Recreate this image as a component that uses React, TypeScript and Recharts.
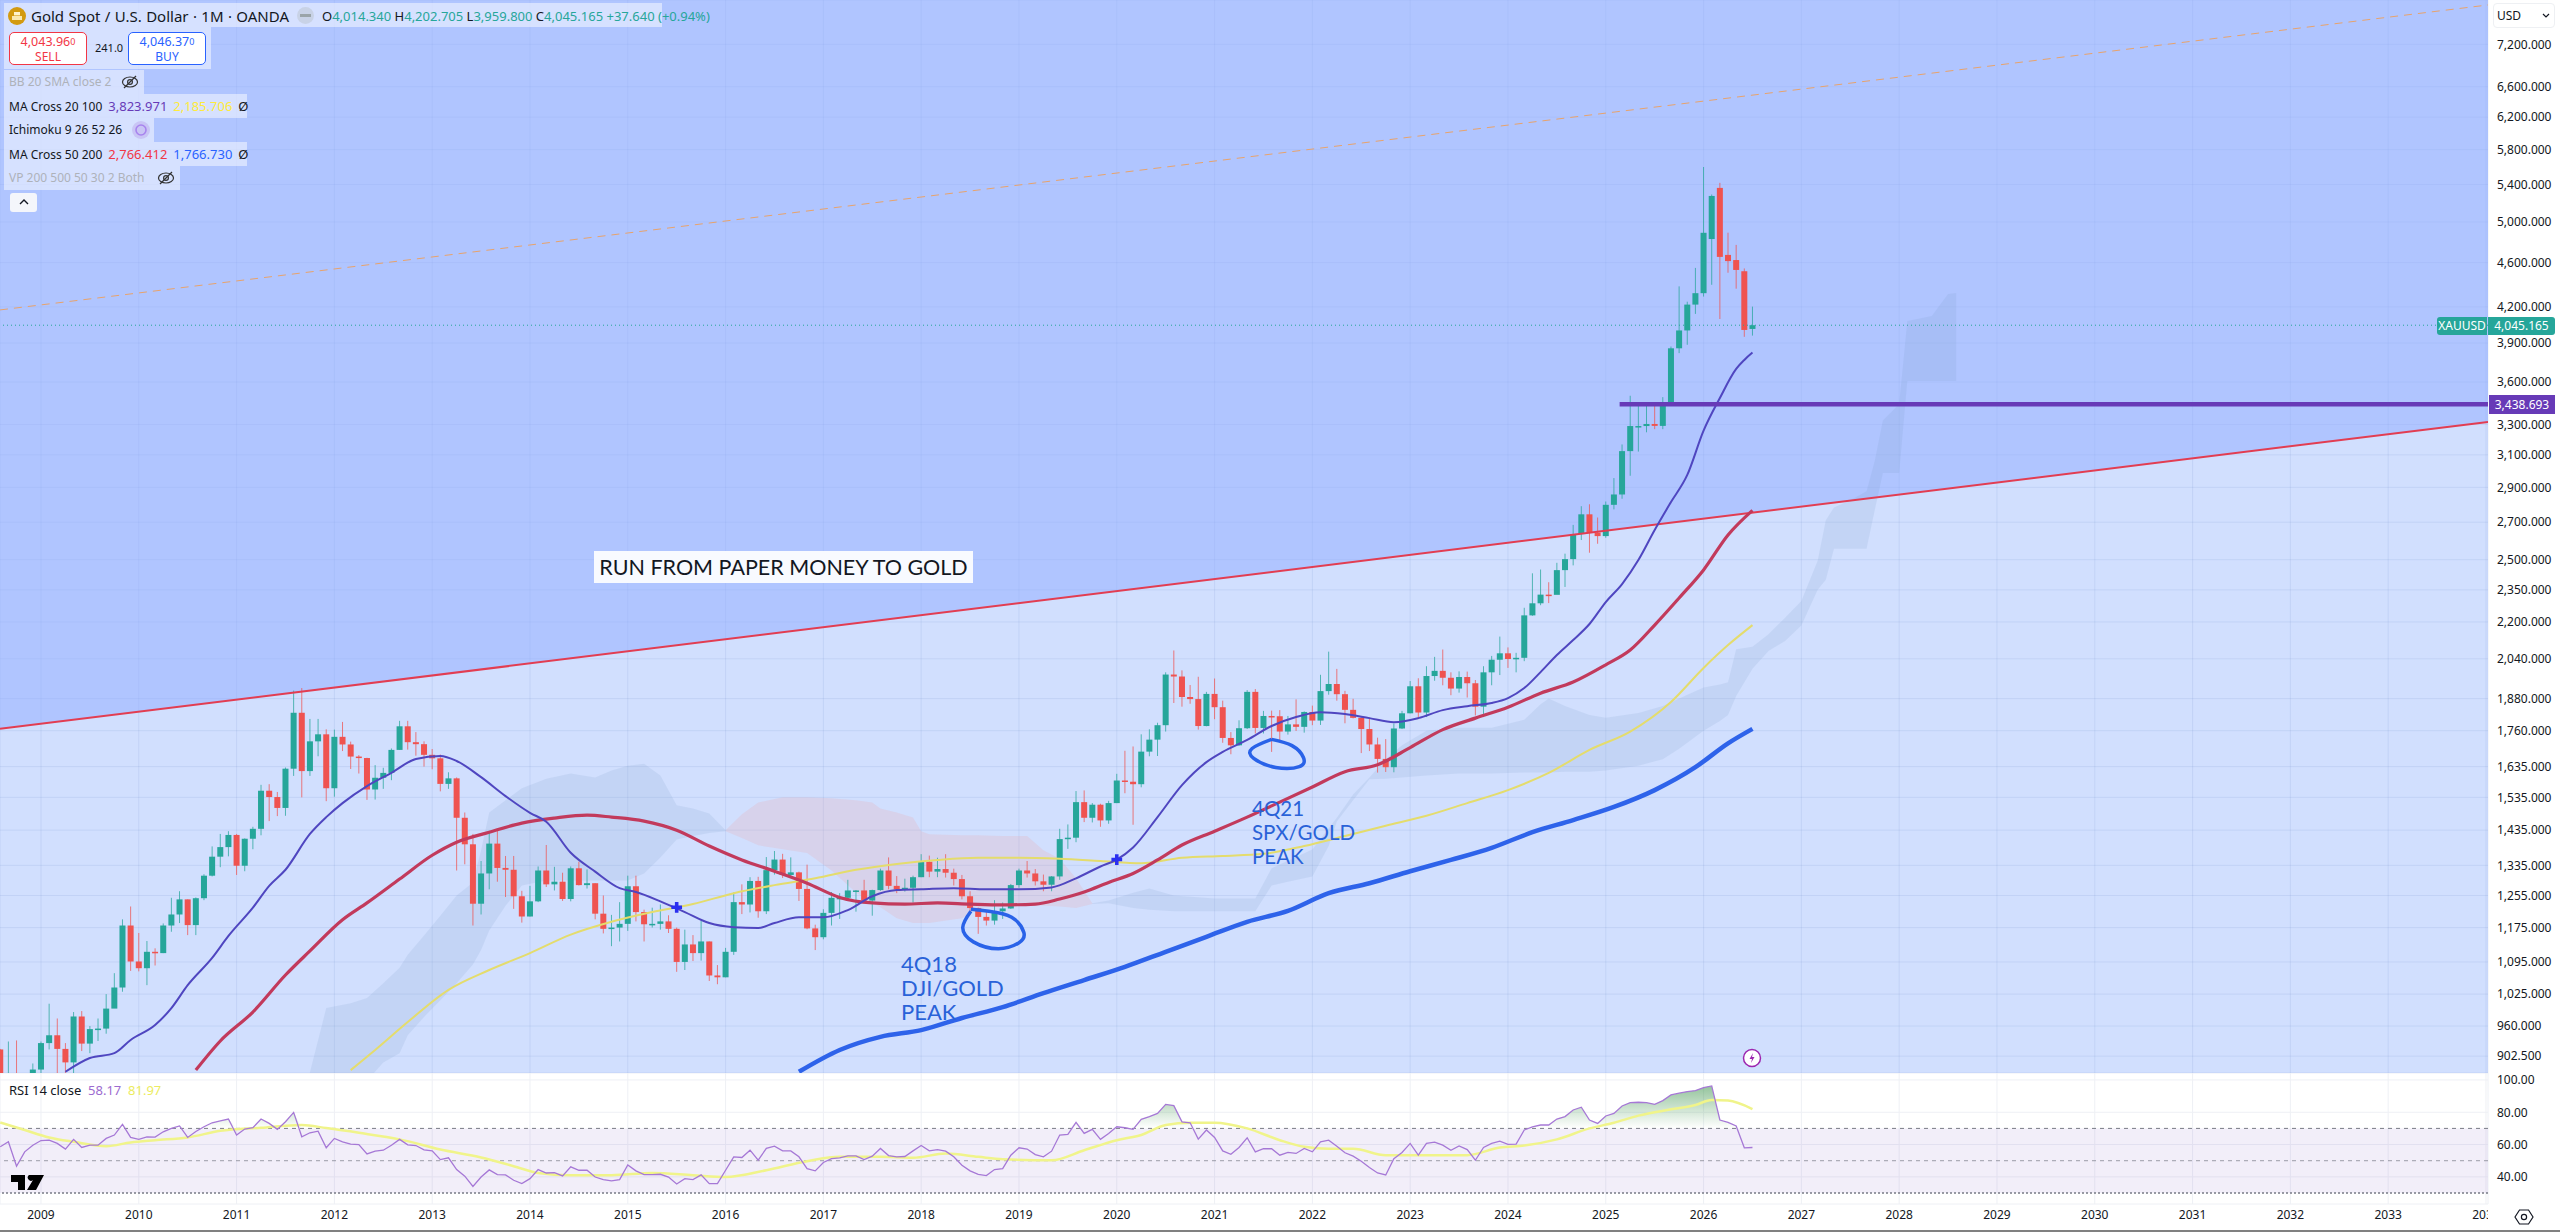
import React from "react";
import {
  ComposedChart,
  Bar,
  Line,
  Area,
  Scatter,
  XAxis,
  YAxis,
  CartesianGrid,
  ReferenceLine,
  ReferenceArea,
} from "recharts";

// monthly candles, first one is Aug 2008 (month -5), month 0 = Jan 2009
const firstMonth = -5;

const opens = [
  915, 833, 871, 725, 815,
  878, 927, 942, 916, 891, 979, 926, 954, 955, 995, 1039, 1180,
  1096, 1081, 1118, 1115, 1180, 1207, 1245, 1181, 1248, 1307, 1359, 1386,
  1421, 1334, 1410, 1439, 1556, 1536, 1502, 1628, 1826, 1620, 1722, 1747,
  1564, 1738, 1711, 1669, 1664, 1560, 1598, 1614, 1692, 1776, 1719, 1712,
  1675, 1663, 1578, 1596, 1472, 1394, 1234, 1313, 1396, 1328, 1323, 1253,
  1202, 1240, 1321, 1284, 1291, 1246, 1327, 1282, 1287, 1209, 1172, 1175,
  1184, 1279, 1213, 1183, 1184, 1190, 1172, 1095, 1135, 1115, 1142, 1065,
  1061, 1118, 1238, 1232, 1293, 1215, 1322, 1351, 1309, 1316, 1272, 1173,
  1152, 1211, 1249, 1249, 1268, 1268, 1242, 1269, 1321, 1280, 1271, 1275,
  1303, 1345, 1318, 1325, 1315, 1298, 1253, 1223, 1201, 1192, 1215, 1222,
  1282, 1321, 1313, 1292, 1283, 1305, 1409, 1413, 1520, 1472, 1512, 1464,
  1517, 1589, 1585, 1577, 1686, 1728, 1780, 1975, 1967, 1886, 1878, 1777,
  1898, 1847, 1734, 1708, 1769, 1906, 1770, 1814, 1813, 1757, 1783, 1774,
  1829, 1797, 1909, 1937, 1897, 1837, 1807, 1766, 1711, 1661, 1633, 1768,
  1824, 1928, 1827, 1969, 1990, 1962, 1919, 1965, 1940, 1849, 1984, 2036,
  2063, 2039, 2044, 2230, 2286, 2327, 2326, 2447, 2503, 2635, 2744, 2643,
  2624, 2798, 2858, 3124, 3289, 3289, 3303, 3290, 3448, 3858, 4002, 4220,
  4320, 4828, 5362, 4673, 4624, 4519, 4014.34,
];

const highs = [
  916, 930, 932, 830, 889,
  930, 1005, 975, 927, 988, 990, 960, 975, 1025, 1070, 1195, 1227,
  1162, 1143, 1126, 1185, 1249, 1266, 1245, 1250, 1311, 1388, 1424, 1432,
  1424, 1411, 1445, 1575, 1577, 1552, 1632, 1911, 1921, 1803, 1803, 1765,
  1764, 1792, 1721, 1674, 1665, 1640, 1631, 1697, 1796, 1796, 1755, 1722,
  1695, 1676, 1616, 1599, 1488, 1424, 1347, 1433, 1434, 1361, 1361, 1267,
  1280, 1332, 1392, 1331, 1315, 1332, 1345, 1324, 1287, 1255, 1206, 1238,
  1307, 1307, 1219, 1224, 1232, 1205, 1175, 1170, 1157, 1192, 1142, 1088,
  1127, 1263, 1284, 1303, 1304, 1358, 1375, 1367, 1357, 1318, 1337, 1182,
  1220, 1264, 1261, 1296, 1269, 1296, 1270, 1326, 1357, 1306, 1299, 1307,
  1366, 1362, 1356, 1366, 1326, 1309, 1266, 1224, 1214, 1243, 1237, 1285,
  1326, 1347, 1325, 1310, 1306, 1439, 1452, 1555, 1557, 1517, 1515, 1524,
  1611, 1689, 1704, 1747, 1765, 1789, 1984, 2075, 1992, 1933, 1966, 1906,
  1959, 1872, 1755, 1798, 1913, 1917, 1833, 1834, 1836, 1814, 1877, 1831,
  1853, 1974, 2070, 1998, 1910, 1879, 1814, 1808, 1735, 1730, 1786, 1833,
  1949, 1960, 2009, 2048, 2079, 1984, 1988, 1987, 1953, 2009, 2052, 2135,
  2088, 2065, 2265, 2431, 2450, 2387, 2484, 2531, 2685, 2790, 2801, 2726,
  2817, 2956, 3167, 3500, 3435, 3452, 3439, 3490, 3872, 4381, 4245, 4550,
  5597, 5290, 5418, 4891, 4770, 4545, 4202.705,
];

const lows = [
  775, 740, 681, 700, 745,
  800, 915, 866, 865, 865, 912, 908, 931, 945, 1000, 1030, 1075,
  1074, 1044, 1087, 1115, 1165, 1186, 1157, 1157, 1243, 1305, 1330, 1360,
  1309, 1319, 1380, 1420, 1462, 1477, 1478, 1604, 1535, 1604, 1670, 1523,
  1537, 1688, 1627, 1612, 1527, 1528, 1562, 1590, 1692, 1693, 1672, 1635,
  1626, 1554, 1562, 1321, 1338, 1180, 1207, 1271, 1291, 1251, 1221, 1187,
  1202, 1238, 1277, 1268, 1241, 1240, 1281, 1273, 1195, 1161, 1131, 1142,
  1167, 1190, 1142, 1175, 1170, 1162, 1073, 1077, 1097, 1098, 1053, 1046,
  1061, 1111, 1208, 1212, 1199, 1208, 1310, 1301, 1302, 1241, 1171, 1122,
  1147, 1180, 1196, 1241, 1214, 1236, 1204, 1267, 1271, 1261, 1265, 1237,
  1303, 1303, 1303, 1302, 1281, 1245, 1211, 1160, 1180, 1182, 1196, 1221,
  1275, 1302, 1281, 1266, 1266, 1296, 1381, 1400, 1459, 1458, 1445, 1454,
  1517, 1548, 1451, 1567, 1670, 1671, 1757, 1863, 1849, 1860, 1764, 1776,
  1802, 1717, 1677, 1706, 1766, 1750, 1750, 1685, 1721, 1746, 1759, 1753,
  1780, 1781, 1895, 1872, 1787, 1805, 1681, 1688, 1615, 1617, 1616, 1766,
  1824, 1804, 1810, 1950, 1932, 1893, 1903, 1884, 1816, 1810, 1932, 1973,
  2002, 1984, 2030, 2228, 2277, 2287, 2353, 2364, 2471, 2603, 2536, 2583,
  2615, 2772, 2833, 2970, 3121, 3247, 3268, 3268, 3430, 3820, 3886, 4140,
  4290, 4395, 4097, 4505, 4360, 3950, 3959.8,
];

const closes = [
  833, 871, 725, 815, 878,
  927, 942, 916, 891, 979, 926, 954, 955, 995, 1039, 1180, 1096,
  1081, 1118, 1115, 1180, 1207, 1245, 1181, 1248, 1307, 1359, 1386, 1421,
  1334, 1410, 1439, 1556, 1536, 1502, 1628, 1826, 1620, 1722, 1747, 1564,
  1738, 1711, 1669, 1664, 1560, 1598, 1614, 1692, 1776, 1719, 1712, 1675,
  1663, 1578, 1596, 1472, 1394, 1234, 1313, 1396, 1328, 1323, 1253, 1202,
  1240, 1321, 1284, 1291, 1246, 1327, 1282, 1287, 1209, 1172, 1175, 1184,
  1279, 1213, 1183, 1184, 1190, 1172, 1095, 1135, 1115, 1142, 1065, 1061,
  1118, 1238, 1232, 1293, 1215, 1322, 1351, 1309, 1316, 1272, 1173, 1152,
  1211, 1249, 1249, 1268, 1268, 1242, 1269, 1321, 1280, 1271, 1275, 1303,
  1345, 1318, 1325, 1315, 1298, 1253, 1223, 1201, 1192, 1215, 1222, 1282,
  1321, 1313, 1292, 1283, 1305, 1409, 1413, 1520, 1472, 1512, 1464, 1517,
  1589, 1585, 1577, 1686, 1728, 1780, 1975, 1967, 1886, 1878, 1777, 1898,
  1847, 1734, 1708, 1769, 1906, 1770, 1814, 1813, 1757, 1783, 1774, 1829,
  1797, 1909, 1937, 1897, 1837, 1807, 1766, 1711, 1661, 1633, 1768, 1824,
  1928, 1827, 1969, 1990, 1962, 1919, 1965, 1940, 1849, 1984, 2036, 2063,
  2039, 2044, 2230, 2286, 2327, 2326, 2447, 2503, 2635, 2744, 2643, 2624,
  2798, 2858, 3124, 3289, 3289, 3303, 3290, 3448, 3858, 4002, 4220, 4320,
  4890, 5274, 4654, 4614, 4531, 4006, 4045.165,
];

const ma20Months = [3, 6, 9, 11, 14, 16, 18, 21, 23, 26, 28, 30, 33, 35, 37, 40, 43, 46, 49, 51, 54, 57, 60, 62, 65, 68, 71, 73, 76, 79, 82, 85, 88, 90, 93, 96, 99, 102, 105, 108, 112, 116, 120, 124, 127, 130, 132, 134, 137, 140, 143, 145, 148, 151, 154, 157, 160, 163, 166, 169, 172, 175, 178, 180, 182, 184, 186, 188, 190, 192, 194, 196, 198, 200, 202, 204, 206, 208, 209, 210];
const ma20Values = [874, 899, 908, 933, 962, 996, 1044, 1104, 1155, 1224, 1280, 1323, 1424, 1474, 1517, 1571, 1614, 1661, 1671, 1654, 1600, 1539, 1487, 1460, 1370, 1318, 1274, 1264, 1240, 1213, 1186, 1176, 1174, 1186, 1200, 1200, 1218, 1253, 1269, 1271, 1274, 1271, 1271, 1276, 1300, 1332, 1351, 1385, 1474, 1574, 1650, 1685, 1727, 1777, 1810, 1828, 1821, 1806, 1791, 1806, 1836, 1851, 1863, 1882, 1921, 1985, 2056, 2120, 2191, 2292, 2378, 2498, 2657, 2814, 2975, 3258, 3484, 3698, 3767, 3823.971];

const ma50Months = [19, 22, 26, 30, 33, 37, 40, 44, 48, 51, 55, 59, 63, 67, 70, 74, 78, 82, 86, 90, 94, 98, 102, 106, 110, 114, 118, 122, 125, 128, 131, 134, 137, 140, 144, 148, 152, 156, 160, 164, 168, 172, 176, 180, 184, 188, 192, 195, 198, 201, 204, 207, 210];
const ma50Values = [877, 931, 988, 1066, 1120, 1194, 1236, 1298, 1363, 1400, 1429, 1456, 1471, 1480, 1474, 1462, 1435, 1389, 1350, 1319, 1287, 1250, 1236, 1233, 1236, 1233, 1231, 1233, 1246, 1264, 1289, 1313, 1350, 1392, 1432, 1474, 1520, 1568, 1618, 1641, 1700, 1764, 1806, 1847, 1901, 1945, 2015, 2077, 2186, 2311, 2448, 2630, 2766.412];

const ma100Months = [38, 41, 45, 50, 55, 60, 65, 70, 75, 80, 85, 90, 95, 100, 105, 110, 115, 120, 125, 130, 135, 140, 145, 150, 155, 160, 165, 170, 175, 180, 185, 190, 195, 200, 204, 207, 210];
const ma100Values = [877, 914, 968, 1034, 1077, 1115, 1158, 1189, 1213, 1233, 1261, 1282, 1300, 1323, 1339, 1350, 1356, 1356, 1353, 1347, 1341, 1356, 1361, 1367, 1389, 1418, 1448, 1478, 1517, 1558, 1614, 1692, 1757, 1867, 2002, 2098, 2185.706];

const ma200Months = [93, 98, 103, 108, 113, 118, 123, 128, 133, 138, 143, 148, 153, 158, 163, 168, 173, 178, 183, 188, 193, 198, 203, 207, 210];
const ma200Values = [874, 914, 939, 952, 976, 998, 1027, 1055, 1084, 1118, 1153, 1189, 1216, 1261, 1287, 1319, 1350, 1384, 1429, 1465, 1505, 1558, 1633, 1715, 1766.73];

// ichimoku cloud edges, three stretches
const greyCloudMonths = [33, 35, 38, 40, 42, 44, 45, 47, 49, 51, 53, 54, 55, 57, 59, 62, 65, 68, 70, 72, 74, 76, 78, 80, 82, 84];
const greyCloudTop = [873, 996, 1006, 1017, 1048, 1082, 1111, 1156, 1204, 1255, 1289, 1377, 1488, 1526, 1564, 1595, 1612, 1599, 1622, 1638, 1645, 1605, 1510, 1500, 1485, 1435];
const greyCloudBottom = [850, 850, 850, 858, 891, 908, 942, 978, 1012, 1048, 1089, 1122, 1168, 1229, 1281, 1294, 1294, 1294, 1294, 1294, 1313, 1357, 1408, 1418, 1427, 1432];

const pinkCloudMonths = [84, 86, 88, 91, 94, 97, 100, 102, 103, 105, 107, 108, 109, 113, 115, 118, 121, 123, 125, 127, 129];
const pinkCloudTop = [1435, 1483, 1519, 1535, 1535, 1532, 1526, 1519, 1500, 1488, 1473, 1432, 1423, 1420, 1420, 1418, 1418, 1377, 1353, 1300, 1235];
const pinkCloudBottom = [1432, 1412, 1391, 1380, 1369, 1321, 1263, 1235, 1225, 1198, 1186, 1186, 1186, 1198, 1223, 1229, 1229, 1229, 1227, 1223, 1233];

const lateCloudMonths = [129, 131, 134, 136, 139, 144, 149, 151, 153, 156, 158, 159, 161, 163, 165, 167, 170, 174, 178, 182, 184, 185, 187, 190, 192, 196, 199, 201, 204, 206, 207, 208, 210, 212, 214, 216, 218, 219, 220, 222, 224, 225, 226, 228, 229, 232, 234, 235];
const lateCloudTop = [1235, 1242, 1262, 1273, 1255, 1247, 1247, 1327, 1348, 1379, 1441, 1472, 1544, 1599, 1660, 1708, 1760, 1771, 1771, 1800, 1858, 1880, 1852, 1818, 1807, 1825, 1852, 1880, 1923, 1935, 1944, 2080, 2091, 2146, 2219, 2297, 2495, 2711, 2783, 2824, 2877, 3062, 3327, 3442, 4081, 4123, 4313, 4322];
const lateCloudBottom = [1233, 1235, 1223, 1219, 1215, 1215, 1215, 1281, 1291, 1305, 1389, 1461, 1526, 1593, 1595, 1599, 1605, 1612, 1612, 1615, 1615, 1615, 1618, 1618, 1622, 1638, 1660, 1696, 1760, 1795, 1818, 1890, 1999, 2074, 2116, 2184, 2350, 2399, 2557, 2557, 2557, 2767, 2987, 2987, 3608, 3608, 3608, 3608];

// hand drawn drawings on the chart
const trendMonths = [-5.03, 300.25];
const redTrendValues = [1767, 3317];
const orangeTrendValues = [4174, 7805];
const supportMonths = [193.7, 300.25];
const supportLevel = 3438.693;
const lastPrice = 4045.165;

const ring18Months = [114.1, 113.1, 114.4, 117.5, 120, 120.6, 119.1, 116.3, 114.1];
const ring18Values = [1215, 1175, 1141, 1125, 1139, 1163, 1200, 1215, 1220];
const ring21Months = [151, 148.6, 148.8, 151.5, 154.4, 154.9, 153.5, 151];
const ring21Values = [1729, 1697, 1663, 1632, 1635, 1666, 1707, 1729];

const crossMonths = [78, 132];
const crossValues = [1225, 1351];

// rsi panel
const rsiValues = [
  58.6, 61.7, 46.6, 55.5, 59.6,
  62.5, 62.7, 60.7, 57.2, 63.2, 58.2, 59.6, 59.6, 63.8, 65.9, 72.5, 64.4,
  63.2, 64.8, 64.6, 67.9, 70, 71.5, 64.4, 68.1, 71, 73.5, 74.6, 75.8,
  65.9, 69.6, 70.4, 75.8, 73.1, 69.4, 74.1, 79.9, 64.8, 67.3, 68.3, 58,
  63.8, 61.7, 60.3, 60, 54.2, 55.9, 56.5, 59.6, 63.2, 59.8, 59.4, 56.7,
  56.1, 50.7, 51.8, 44.5, 40.4, 34.1, 39.9, 44.3, 41.4, 41.2, 37.9, 35.8,
  38.9, 44.5, 42.4, 42.6, 40.6, 46.2, 44.1, 44.1, 39.9, 38.3, 37.5, 38.3,
  47.4, 43.7, 41.4, 41.4, 41.6, 39.9, 35.6, 38.9, 38.3, 41.2, 35.8, 35.8,
  44.1, 52.4, 52, 56.5, 50.3, 57.6, 59, 56.1, 56.1, 52.4, 45.1, 43.7,
  48.9, 51.3, 51.8, 53, 53, 50.7, 52.8, 57.6, 53.2, 52.4, 52.6, 56.1,
  59.4, 56.1, 56.9, 55.9, 52.4, 47.2, 43.7, 41.6, 40.8, 44.5, 45.1, 53.4,
  58, 57.2, 53.8, 52.4, 55.9, 65.9, 66.3, 73.7, 66.9, 69.4, 63.2, 66.9,
  71, 70.4, 69.4, 75.6, 77.3, 79.3, 84.9, 84.1, 74.1, 73.5, 63.4, 69,
  64.4, 56.1, 54, 58.2, 64.2, 55.5, 57.4, 57.4, 53.4, 55.1, 54.5, 57.6,
  55.5, 61.7, 62.7, 59, 54.9, 52.8, 49.7, 45.8, 42.4, 41.2, 51.3, 55.1,
  60.7, 53.4, 60.7, 61.5, 59.6, 56.5, 59.2, 56.9, 50.3, 58.2, 60.7, 62.1,
  60.1, 60.3, 69, 71, 72.1, 72.1, 75.8, 77.3, 81.4, 83.1, 75.2, 73.1,
  77.7, 79.3, 83.9, 86, 86.2, 86, 84.9, 87.2, 90.7, 91.8, 92.8, 93.4,
  95.3, 96.3, 75.2, 73.7, 71.5, 58, 58.17,
];

const rsiMaMonths = [-5, -2, 1, 4, 8, 11, 14, 18, 22, 27, 32, 35, 39, 44, 49, 54, 58, 61, 65, 70, 75, 80, 84, 89, 94, 98, 103, 107, 111, 115, 118, 124, 128, 132, 135, 138, 141, 144, 148, 152, 155, 158, 161, 165, 170, 175, 179, 182, 186, 190, 193, 196, 200, 203, 205, 207, 210];
const rsiMaValues = [73.7, 69, 64.4, 61.7, 59, 61.3, 62.7, 64.4, 68.5, 70.4, 72.1, 70.2, 67.3, 63.2, 56.9, 52, 46.6, 42.4, 41, 41, 42.4, 41, 39.9, 44.1, 49.7, 52.4, 52.4, 51.8, 54.5, 52.4, 50.9, 50.3, 56.5, 62.7, 65.9, 72.1, 73.5, 73.5, 70, 62.7, 58.6, 57.4, 57.4, 53.4, 53.4, 53.4, 58.2, 59.4, 63.2, 70, 73.5, 77.9, 81.8, 84.5, 87.6, 87.2, 81.97];

const years = [2009, 2010, 2011, 2012, 2013, 2014, 2015, 2016, 2017, 2018, 2019, 2020, 2021, 2022, 2023, 2024, 2025, 2026, 2027, 2028, 2029, 2030, 2031, 2032, 2033, 2034];
const priceTicks = [7200, 6600, 6200, 5800, 5400, 5000, 4600, 4200, 3900, 3600, 3300, 3100, 2900, 2700, 2500, 2350, 2200, 2040, 1880, 1760, 1635, 1535, 1435, 1335, 1255, 1175, 1095, 1025, 960, 902.5];
const rsiTicks = [100, 80, 60, 40];

const candleRows = opens.map((open, i) => ({
  m: firstMonth + i,
  open,
  high: highs[i],
  low: lows[i],
  close: closes[i],
}));
const rsiRows = rsiValues.map((rsi, i) => ({
  m: firstMonth + i,
  rsi,
  over: [70, Math.max(rsi, 70)],
}));
const pairLine = (months: number[], values: number[]) =>
  months.map((m, i) => ({ m, v: values[i] }));
const cloudRows = (months: number[], top: number[], bottom: number[]) =>
  months.map((m, i) => ({ m, band: [bottom[i], top[i]] }));

const monthTicks = years.map((y) => (y - 2009) * 12);
const monthDomain = [-5.03, 300.25];
const priceFormat = (v: number) =>
  v.toLocaleString("en-US", { minimumFractionDigits: 3, maximumFractionDigits: 3 });

const FONT = "'Noto Sans', sans-serif";
const UP = "#26a69a";
const DOWN = "#ef5350";
const ROW_BG = "rgba(240,243,255,0.6)";
const BODY_WIDTH = 6;

function Candle(props: any) {
  const { x, y, width, height, payload } = props;
  const { open, close, high, low } = payload;
  // bar spans low..high on the log axis, body is placed inside that span
  const yOf = (p: number) => y + (height * Math.log(high / p)) / Math.log(high / low);
  const color = close >= open ? UP : DOWN;
  const top = yOf(Math.max(open, close));
  const bottom = yOf(Math.min(open, close));
  const mid = x + width / 2;
  return (
    <g>
      <line x1={mid} x2={mid} y1={y} y2={y + height} stroke={color} strokeOpacity={0.75} strokeWidth={1} />
      <rect x={mid - BODY_WIDTH / 2} y={top} width={BODY_WIDTH} height={Math.max(bottom - top, 1.5)} fill={color} />
    </g>
  );
}

function Row({ top, width, children }: any) {
  return (
    <div
      style={{
        position: "absolute",
        left: 4,
        top,
        width,
        height: 24,
        paddingLeft: 5,
        boxSizing: "border-box",
        background: ROW_BG,
        fontSize: 12,
        lineHeight: "24px",
        color: "#131722",
        whiteSpace: "pre",
      }}
    >
      {children}
    </div>
  );
}

function Value({ color, children }: any) {
  return <span style={{ color, fontSize: 13, marginLeft: 6 }}>{children}</span>;
}

function Eye({ x, y }: { x: number; y: number }) {
  return (
    <svg style={{ position: "absolute", left: x, top: y }} width="18" height="14">
      <ellipse cx="9" cy="7" rx="7.5" ry="5" fill="none" stroke="#333" strokeWidth="1.2" />
      <circle cx="9" cy="7" r="2.4" fill="none" stroke="#333" strokeWidth="1.2" />
      <line x1="3" y1="13" x2="15" y2="1" stroke="#333" strokeWidth="1.2" />
    </svg>
  );
}

function TradeBox({ left, color, price, sub, label }: any) {
  return (
    <div
      style={{
        position: "absolute",
        left,
        top: 32,
        width: 78,
        height: 33,
        boxSizing: "border-box",
        border: `1px solid ${color}`,
        borderRadius: 5,
        background: "#fff",
        color,
        textAlign: "center",
        fontSize: 12.5,
        lineHeight: "15px",
        paddingTop: 1,
      }}
    >
      <div>
        {price}
        <span style={{ fontSize: 9, verticalAlign: "top" }}>{sub}</span>
      </div>
      <div style={{ fontSize: 12 }}>{label}</div>
    </div>
  );
}

function Legend() {
  return (
    <div style={{ position: "absolute", left: 0, top: 0, fontFamily: FONT }}>
      <div style={{ position: "absolute", left: 4, top: 3, width: 658, height: 24, background: ROW_BG }} />
      <svg style={{ position: "absolute", left: 8, top: 7 }} width="18" height="18">
        <circle cx="9" cy="9" r="9" fill="#d39a10" />
        <rect x="4" y="9" width="10" height="4" fill="#fbe9b0" />
        <rect x="6" y="5" width="6" height="3.4" fill="#fff3cc" />
      </svg>
      <div style={{ position: "absolute", left: 31, top: 4, fontSize: 15, wordSpacing: 0.5, lineHeight: "24px", color: "#131722", whiteSpace: "pre" }}>
        Gold Spot / U.S. Dollar · 1M · OANDA
      </div>
      <div style={{ position: "absolute", left: 297, top: 7, width: 17, height: 17, borderRadius: 9, background: "#c8d2e6" }}>
        <div style={{ margin: "7px 3px", height: 3, background: "#9aa4a8" }} />
      </div>
      <div style={{ position: "absolute", left: 322, top: 4, fontSize: 13, lineHeight: "24px", color: "#131722", whiteSpace: "pre" }}>
        O<span style={{ color: UP }}>4,014.340</span> H<span style={{ color: UP }}>4,202.705</span> L<span style={{ color: UP }}>3,959.800</span> C<span style={{ color: UP }}>4,045.165</span> <span style={{ color: UP }}>+37.640 (+0.94%)</span>
      </div>

      <div style={{ position: "absolute", left: 4, top: 27, width: 207, height: 42, background: ROW_BG }} />
      <TradeBox left={9} color="#f23645" price="4,043.96" sub="0" label="SELL" />
      <div style={{ position: "absolute", left: 95, top: 40, fontSize: 11, color: "#131722" }}>241.0</div>
      <TradeBox left={128} color="#2962ff" price="4,046.37" sub="0" label="BUY" />

      <Row top={70} width={140}>
        <span style={{ color: "#aeb2ba" }}>BB 20 SMA close 2</span>
      </Row>
      <Eye x={121} y={75} />
      <Row top={94} width={243}>
        MA Cross 20 100
        <Value color="#673ab7">3,823.971</Value>
        <Value color="#ffeb3b">2,185.706</Value>
        <Value color="#131722">Ø</Value>
      </Row>
      <Row top={118} width={150}>
        Ichimoku 9 26 52 26
      </Row>
      <svg style={{ position: "absolute", left: 132, top: 121 }} width="18" height="18">
        <circle cx="9" cy="9" r="9" fill="#c9c5f5" />
        <circle cx="9" cy="9" r="5" fill="none" stroke="#a884ee" strokeWidth="1.6" />
      </svg>
      <Row top={142} width={243}>
        MA Cross 50 200
        <Value color="#f23645">2,766.412</Value>
        <Value color="#2962ff">1,766.730</Value>
        <Value color="#131722">Ø</Value>
      </Row>
      <Row top={166} width={176}>
        <span style={{ color: "#aeb2ba" }}>VP 200 500 50 30 2 Both</span>
      </Row>
      <Eye x={157} y={171} />
      <div style={{ position: "absolute", left: 10, top: 193, width: 27, height: 19, borderRadius: 3, background: "#f4f6fb", textAlign: "center" }}>
        <svg width="12" height="19">
          <polyline points="2,11 6,7 10,11" fill="none" stroke="#131722" strokeWidth="1.4" />
        </svg>
      </div>
    </div>
  );
}

function Notes() {
  const note: React.CSSProperties = {
    position: "absolute",
    fontFamily: "Lato, sans-serif",
    fontSize: 22,
    lineHeight: "24px",
    color: "#2962d8",
    whiteSpace: "pre",
  };
  return (
    <>
      <div
        style={{
          position: "absolute",
          left: 594,
          top: 551,
          width: 379,
          height: 32,
          background: "#f8faff",
          fontFamily: "Lato, sans-serif",
          fontSize: 21.5,
          lineHeight: "32px",
          textAlign: "center",
          color: "#131722",
          whiteSpace: "pre",
        }}
      >
        RUN FROM PAPER MONEY TO GOLD
      </div>
      <div style={{ ...note, left: 901, top: 952 }}>{"4Q18\nDJI/GOLD\nPEAK"}</div>
      <div style={{ ...note, left: 1252, top: 796, fontSize: 20.5 }}>{"4Q21\nSPX/GOLD\nPEAK"}</div>
    </>
  );
}

function PriceTags() {
  const tag: React.CSSProperties = {
    position: "absolute",
    fontFamily: FONT,
    fontSize: 12,
    color: "#fff",
    textAlign: "center",
  };
  return (
    <>
      <div
        style={{
          position: "absolute",
          left: 2493,
          top: 3,
          width: 62,
          height: 25,
          boxSizing: "border-box",
          border: "1px solid #eef0f3",
          borderRadius: 4,
          fontFamily: FONT,
          fontSize: 12,
          lineHeight: "23px",
          paddingLeft: 3,
          color: "#131722",
        }}
      >
        USD
        <svg style={{ position: "absolute", right: 4, top: 9 }} width="8" height="6">
          <polyline points="1,1 4,4 7,1" fill="none" stroke="#131722" strokeWidth="1.2" />
        </svg>
      </div>
      <div style={{ ...tag, left: 2437, top: 317, width: 50, height: 18, lineHeight: "18px", background: UP, borderRadius: "3px 0 0 3px" }}>XAUUSD</div>
      <div style={{ ...tag, left: 2488, top: 317, width: 67, height: 18, lineHeight: "18px", background: UP, borderRadius: "0 3px 3px 0" }}>4,045.165</div>
      <div style={{ ...tag, left: 2489, top: 395, width: 66, height: 19, lineHeight: "19px", background: "#673ab7" }}>3,438.693</div>

      <div style={{ position: "absolute", left: 9, top: 1081, fontFamily: FONT, fontSize: 13, lineHeight: "18px", color: "#131722", whiteSpace: "pre" }}>
        RSI 14 close  <span style={{ color: "#9c6bd0" }}>58.17</span>  <span style={{ color: "#ecec60" }}>81.97</span>
      </div>

      <svg style={{ position: "absolute", left: 11, top: 1175 }} width="33" height="16">
        <path d="M0 0H14V15H7V7H0Z M18 0H33L25 15H16L22 5A3 3 0 1 1 18 0Z" fill="#000" />
      </svg>
      <svg style={{ position: "absolute", left: 1742, top: 1048 }} width="20" height="20">
        <circle cx="10" cy="10" r="8.5" fill="#fff" stroke="#9c27b0" strokeWidth="1.5" />
        <path d="M11 5L7.5 11H10L9 15L12.5 9H10Z" fill="#9c27b0" />
      </svg>

      <div style={{ position: "absolute", left: 2488, top: 1205, width: 72, height: 25, background: "#fff" }}>
        <svg style={{ position: "absolute", left: 26, top: 3 }} width="20" height="18">
          <path d="M1 9L5.5 2H14.5L19 9L14.5 16H5.5Z" fill="none" stroke="#131722" strokeWidth="1.2" />
          <circle cx="10" cy="9" r="2.6" fill="none" stroke="#131722" strokeWidth="1.2" />
        </svg>
      </div>
      <div style={{ position: "absolute", left: 0, top: 1230, width: 2560, height: 2, background: "#808080" }} />
    </>
  );
}

function PriceChart() {
  return (
    <ComposedChart data={candleRows} width={2560} height={1073} margin={{ top: 0, right: 0, bottom: 0, left: 0 }}>
      <CartesianGrid stroke="#5a78c0" strokeOpacity={0.12} fill="#d1dffe" fillOpacity={1} />
      <XAxis dataKey="m" type="number" domain={monthDomain} ticks={monthTicks} hide allowDataOverflow />
      <YAxis
        type="number"
        scale="log"
        orientation="right"
        domain={[871.8, 7885]}
        ticks={priceTicks}
        width={72}
        interval={0}
        allowDataOverflow
        axisLine={false}
        tickLine={false}
        tickSize={0}
        tickMargin={9}
        tickFormatter={priceFormat}
        tick={{ fill: "#131722", fontSize: 12, fontFamily: FONT }}
      />
      {/* everything above the red trend line is the darker blue */}
      <Area
        data={trendMonths.map((m, i) => ({ m, band: [redTrendValues[i], 7885] }))}
        dataKey="band"
        type="linear"
        stroke="none"
        fill="#8fabff"
        fillOpacity={0.5}
        activeDot={false}
        isAnimationActive={false}
      />
      <Area data={cloudRows(greyCloudMonths, greyCloudTop, greyCloudBottom)} dataKey="band" type="linear" stroke="none" fill="#7a9ac0" fillOpacity={0.15} activeDot={false} isAnimationActive={false} />
      <Area data={cloudRows(pinkCloudMonths, pinkCloudTop, pinkCloudBottom)} dataKey="band" type="linear" stroke="none" fill="#f0a0a0" fillOpacity={0.2} activeDot={false} isAnimationActive={false} />
      <Area data={cloudRows(lateCloudMonths, lateCloudTop, lateCloudBottom)} dataKey="band" type="linear" stroke="none" fill="#7a9ac0" fillOpacity={0.15} activeDot={false} isAnimationActive={false} />
      <ReferenceLine y={lastPrice} stroke={UP} strokeDasharray="1 3" />
      <Line data={pairLine(trendMonths, orangeTrendValues)} dataKey="v" stroke="#e8a36c" strokeWidth={1} strokeDasharray="8 6" dot={false} activeDot={false} isAnimationActive={false} />
      <Bar dataKey={(d: any) => [d.low, d.high]} barSize={6} shape={<Candle />} isAnimationActive={false} />
      <Line data={pairLine(trendMonths, redTrendValues)} dataKey="v" stroke="#e23d52" strokeWidth={2} dot={false} activeDot={false} isAnimationActive={false} />
      <Line data={pairLine(ma100Months, ma100Values)} dataKey="v" type="monotone" stroke="#e4dc6c" strokeWidth={2} dot={false} activeDot={false} isAnimationActive={false} />
      <Line data={pairLine(ma200Months, ma200Values)} dataKey="v" type="monotone" stroke="#2e63ea" strokeWidth={4.5} dot={false} activeDot={false} isAnimationActive={false} />
      <Line data={pairLine(ma50Months, ma50Values)} dataKey="v" type="monotone" stroke="#c23a5c" strokeWidth={3.2} dot={false} activeDot={false} isAnimationActive={false} />
      <Line data={pairLine(ma20Months, ma20Values)} dataKey="v" type="monotone" stroke="#4f46c0" strokeWidth={2} dot={false} activeDot={false} isAnimationActive={false} />
      <Line data={pairLine(supportMonths, [supportLevel, supportLevel])} dataKey="v" stroke="#673ab7" strokeWidth={4.5} dot={false} activeDot={false} isAnimationActive={false} />
      <Line data={pairLine(ring18Months, ring18Values)} dataKey="v" type="natural" stroke="#2962e8" strokeWidth={3.5} dot={false} activeDot={false} isAnimationActive={false} />
      <Line data={pairLine(ring21Months, ring21Values)} dataKey="v" type="natural" stroke="#2962e8" strokeWidth={3.5} dot={false} activeDot={false} isAnimationActive={false} />
      <Scatter data={pairLine(crossMonths, crossValues)} dataKey="v" shape="cross" fill="#2a2ff0" isAnimationActive={false} />
    </ComposedChart>
  );
}

function RsiChart() {
  return (
    <ComposedChart data={rsiRows} width={2560} height={159} margin={{ top: 0, right: 0, bottom: 0, left: 0 }}>
      <defs>
        <linearGradient id="rsiOver" x1="0" y1="0" x2="0" y2="1">
          <stop offset="0%" stopColor="#2e8b3d" stopOpacity={0.85} />
          <stop offset="100%" stopColor="#2e8b3d" stopOpacity={0} />
        </linearGradient>
      </defs>
      <CartesianGrid stroke="#eef0f5" />
      <XAxis
        dataKey="m"
        type="number"
        domain={monthDomain}
        ticks={monthTicks}
        interval={0}
        height={28}
        allowDataOverflow
        axisLine={false}
        tickLine={false}
        tickSize={0}
        tickMargin={6}
        tickFormatter={(m: number) => String(2009 + m / 12)}
        tick={{ fill: "#131722", fontSize: 12, fontFamily: FONT }}
      />
      <YAxis
        type="number"
        orientation="right"
        domain={[23.2, 104.3]}
        ticks={rsiTicks}
        width={72}
        interval={0}
        allowDataOverflow
        axisLine={false}
        tickLine={false}
        tickSize={0}
        tickMargin={9}
        tickFormatter={(v: number) => v.toFixed(2)}
        tick={{ fill: "#131722", fontSize: 12, fontFamily: FONT }}
      />
      <ReferenceArea y1={30} y2={70} fill="#7e57c2" fillOpacity={0.1} stroke="none" />
      <ReferenceLine y={70} stroke="#787b86" strokeDasharray="4 4" />
      <ReferenceLine y={50} stroke="#787b86" strokeOpacity={0.7} strokeDasharray="4 4" />
      <ReferenceLine y={30} stroke="#787b86" strokeDasharray="2 2" strokeWidth={1.5} />
      <Area dataKey="over" type="linear" stroke="none" fill="url(#rsiOver)" activeDot={false} isAnimationActive={false} />
      <Line data={pairLine(rsiMaMonths, rsiMaValues)} dataKey="v" type="monotone" stroke="#f0f48a" strokeWidth={2.5} dot={false} activeDot={false} isAnimationActive={false} />
      <Line dataKey="rsi" stroke="#a678d6" strokeWidth={1.3} dot={false} activeDot={false} isAnimationActive={false} />
    </ComposedChart>
  );
}

export default function App() {
  return (
    <div style={{ position: "absolute", left: 0, top: 0, width: 2560, height: 1232, overflow: "hidden", background: "#fff" }}>
      <div style={{ position: "absolute", left: 0, top: 0 }}>
        <PriceChart />
      </div>
      <div style={{ position: "absolute", left: 0, top: 1073 }}>
        <RsiChart />
      </div>
      <Legend />
      <Notes />
      <PriceTags />
    </div>
  );
}
